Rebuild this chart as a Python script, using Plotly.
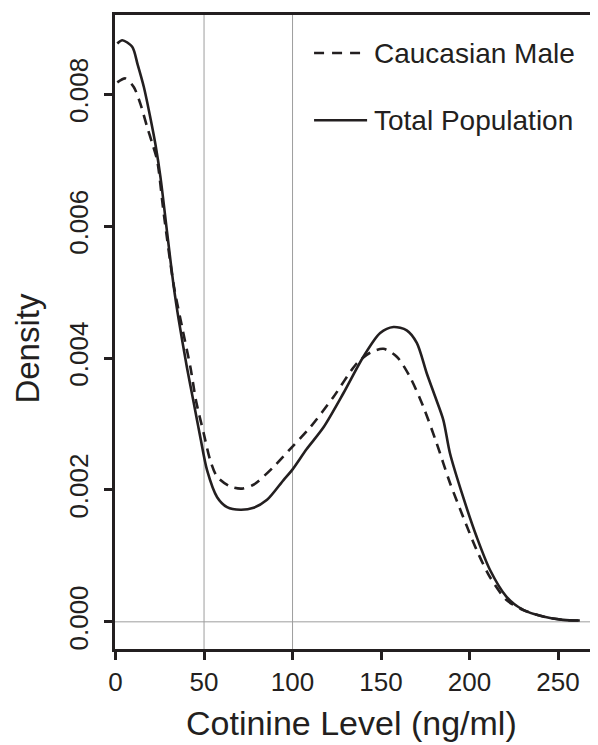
import plotly.graph_objects as go

# Total Population density curve (solid)
total_x = [1, 3.8, 9.4, 12.5, 16.0, 19.7, 22.6, 25.4, 29.2, 32.9, 35.7, 40.4, 44.2, 47.9,
           51.7, 57.4, 63.0, 70.5, 78.0, 85.6, 94.9, 99.7, 108, 117.5, 128.8, 140.0, 149.5,
           157.0, 164.5, 170.2, 175.8, 180.5, 185.2, 188.9, 196.4, 204.0, 211.5, 220.9,
           230.3, 241.6, 252.9, 262.3]
total_y = [0.00877, 0.00882, 0.00872, 0.00845, 0.00811, 0.00764, 0.00723, 0.00674, 0.00589,
           0.00508, 0.00458, 0.00385, 0.00332, 0.00280, 0.00230, 0.00189, 0.00174, 0.00170,
           0.00173, 0.00185, 0.00215, 0.00230, 0.00262, 0.00295, 0.00347, 0.00402, 0.00438,
           0.00447, 0.00442, 0.00423, 0.00377, 0.00342, 0.00306, 0.00256, 0.00189, 0.00129,
           0.00079, 0.00038, 0.00018, 0.00008, 0.00003, 0.00002]

# Caucasian Male density curve (dashed)
male_x = [1, 5.6, 10.3, 14.1, 17.9, 20.7, 23.5, 27.2, 32.9, 37.6, 42.3, 45.5, 49.8, 53.5,
          57.4, 64.9, 71.5, 78.0, 89.3, 99.7, 110.0, 123.1, 136.3, 143.8, 151.3, 158.9,
          166.4, 173.9, 181.4, 188.9, 196.4, 204.0, 211.5, 220.9, 230.3, 241.6, 252.9, 262.3]
male_y = [0.00818, 0.00824, 0.00811, 0.00785, 0.00750, 0.00726, 0.00700, 0.00620, 0.00510,
          0.00447, 0.00386, 0.00335, 0.00286, 0.00245, 0.00220, 0.00205, 0.00202, 0.00208,
          0.00235, 0.00265, 0.00295, 0.00341, 0.00392, 0.00408, 0.00414, 0.00402, 0.00371,
          0.00326, 0.00271, 0.00211, 0.00159, 0.00109, 0.00068, 0.00033, 0.00018, 0.00008,
          0.00003, 0.00002]

x_ticks = [0, 50, 100, 150, 200, 250]
y_ticks = [0.000, 0.002, 0.004, 0.006, 0.008]
y_tick_labels = ["0.000", "0.002", "0.004", "0.006", "0.008"]
grid_x = [50, 100]
grid_y = [0]

series_names = ["Caucasian Male", "Total Population"]
x_title = "Cotinine Level (ng/ml)"
y_title = "Density"

FONT = "Liberation Sans, Arial, Helvetica, sans-serif"
BLACK = "#231f20"

fig = go.Figure()
fig.add_trace(go.Scatter(x=male_x, y=male_y, mode="lines", name=series_names[0],
                         line=dict(color=BLACK, width=2.6, dash="10px,7px",
                                   shape="spline", smoothing=0.8)))
fig.add_trace(go.Scatter(x=total_x, y=total_y, mode="lines", name=series_names[1],
                         line=dict(color=BLACK, width=2.6, shape="spline", smoothing=0.8)))

shapes = []
for gx in grid_x:
    shapes.append(dict(type="line", xref="x", yref="paper", x0=gx, x1=gx, y0=0, y1=1,
                       line=dict(color="#9d9d9d", width=1), layer="below"))
for gy in grid_y:
    shapes.append(dict(type="line", xref="paper", yref="y", x0=0, x1=1, y0=gy, y1=gy,
                       line=dict(color="#9d9d9d", width=1), layer="below"))

# manual legend (longer sample lines than plotly's built-in legend)
leg_rows = [(0.940, "10px,8px"), (0.834, "solid")]
annotations = []
for (ly, dash), name in zip(leg_rows, series_names):
    shapes.append(dict(type="line", xref="paper", yref="paper", x0=0.413, x1=0.523,
                       y0=ly, y1=ly, line=dict(color=BLACK, width=2.6, dash=dash)))
    annotations.append(dict(xref="paper", yref="paper", x=0.533, y=ly, text=name,
                            showarrow=False, xanchor="left", yanchor="middle",
                            font=dict(family=FONT, size=28, color=BLACK)))

# axis titles placed as annotations for exact positioning
annotations.append(dict(xref="paper", yref="paper", x=-0.181, y=0.475, text=y_title,
                        textangle=-90, showarrow=False, xanchor="center", yanchor="middle",
                        font=dict(family=FONT, size=33, color=BLACK)))
annotations.append(dict(xref="paper", yref="paper", x=0.49, y=-0.117, text=x_title,
                        showarrow=False, xanchor="center", yanchor="middle",
                        font=dict(family=FONT, size=34, color=BLACK)))

# the page body adds an 8px margin, so the figure is sized to fill the rest of the window
fig.update_layout(
    width=590, height=737,
    margin=dict(l=107, r=1, t=7, b=96),
    paper_bgcolor="white", plot_bgcolor="white",
    showlegend=False,
    font=dict(family=FONT, color=BLACK),
    shapes=shapes,
    annotations=annotations,
    xaxis=dict(range=[-0.3, 272], tickvals=x_ticks, showgrid=False, zeroline=False,
               automargin=False,
               showline=True, linecolor=BLACK, linewidth=2.6, mirror=True,
               ticks="outside", ticklen=8, tickwidth=2.6, tickcolor=BLACK,
               tickfont=dict(family=FONT, size=26, color=BLACK)),
    yaxis=dict(range=[-0.000412, 0.009202], tickvals=y_ticks, ticktext=y_tick_labels,
               showgrid=False, zeroline=False, automargin=False,
               showline=True, linecolor=BLACK, linewidth=2.6, mirror=True,
               ticks="outside", ticklen=8, tickwidth=2.6, tickcolor=BLACK, tickangle=-90,
               ticklabelstandoff=6,
               tickfont=dict(family=FONT, size=26, color=BLACK)),
)

fig.write_html("out.html")
